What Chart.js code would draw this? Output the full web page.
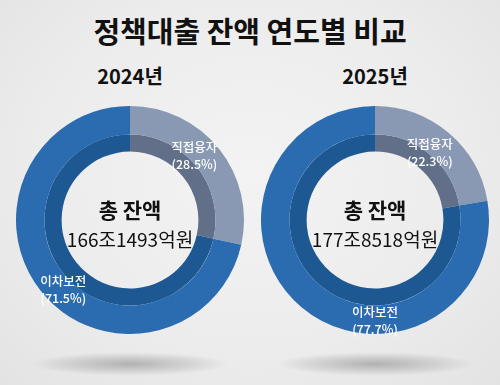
<!DOCTYPE html>
<html><head><meta charset="utf-8">
<script src="https://cdn.jsdelivr.net/npm/chart.js@4"></script>
<style>
html,body{margin:0;padding:0;}
body{width:500px;height:385px;overflow:hidden;position:relative;background:radial-gradient(ellipse at 50% 45%, #f3f3f3 0%, #ececec 60%, #e3e3e3 100%);font-family:"Noto Sans CJK KR","Noto Sans",sans-serif;}
#title{position:absolute;left:0;width:500px;top:10px;text-align:center;font-size:29px;font-weight:700;color:#111;line-height:40px;}
.year{position:absolute;top:62px;width:160px;text-align:center;font-size:20px;font-weight:700;color:#111;line-height:28px;}
.shadow{position:absolute;top:352px;width:200px;height:24px;border-radius:50%;background:radial-gradient(ellipse at center, rgba(0,0,0,0.24) 0%, rgba(0,0,0,0.09) 45%, rgba(0,0,0,0) 70%);}
.wrap{position:absolute;top:100px;width:240px;height:240px;}
</style>
</head><body>
<div id="title">정책대출 잔액 연도별 비교</div>
<div class="year" id="y0" style="left:50px"></div>
<div class="year" id="y1" style="left:295px"></div>
<div class="shadow" style="left:30px"></div>
<div class="shadow" style="left:275px"></div>
<div class="wrap" style="left:10px"><canvas id="c0" width="240" height="240"></canvas></div>
<div class="wrap" style="left:255px"><canvas id="c1" width="240" height="240"></canvas></div>
<script>
const categories = ['직접융자', '이차보전'];
const years = ['2024년', '2025년'];
const share2024 = [28.5, 71.5];
const share2025 = [22.3, 77.7];
const totals = ['166조1493억원', '177조8518억원'];
const centerTitle = '총 잔액';

const outerColors = ['#8a99b3', '#2b6cb0'];
const innerColors = ['#626f88', '#1d5893'];
const FONT = '"Noto Sans CJK KR","Noto Sans",sans-serif';

document.getElementById('y0').textContent = years[0];
document.getElementById('y1').textContent = years[1];

const ringText = {
  id: 'ringText',
  afterDatasetsDraw(chart, args, opts) {
    const ctx = chart.ctx;
    const arc = chart.getDatasetMeta(0).data[0];
    const cx = arc.x, cy = arc.y;
    ctx.save();
    ctx.textAlign = 'center';
    ctx.textBaseline = 'middle';
    ctx.fillStyle = '#111';
    ctx.font = 'bold 21px ' + FONT;
    ctx.fillText(centerTitle, cx, cy - 10);
    ctx.font = '19px ' + FONT;
    ctx.fillText(opts.total, cx, cy + 20);
    const vals = chart.data.datasets[0].data;
    ctx.fillStyle = '#ffffff';
    ctx.font = '500 12.5px ' + FONT;
    chart.data.labels.forEach((lab, i) => {
      const a = opts.angles[i] * Math.PI / 180;
      const r = opts.radii[i];
      const x = cx + r * Math.sin(a), y = cy - r * Math.cos(a);
      ctx.fillText(lab, x, y - 8);
      ctx.fillText('(' + vals[i].toFixed(1) + '%)', x, y + 9);
    });
    ctx.restore();
  }
};

function makeChart(id, shares, total, angles, radii) {
  return new Chart(document.getElementById(id), {
    type: 'doughnut',
    data: {
      labels: categories,
      datasets: [
        { data: shares, backgroundColor: outerColors, borderWidth: 0, weight: 30 },
        { data: shares, backgroundColor: innerColors, borderWidth: 0, weight: 18 }
      ]
    },
    options: {
      responsive: false,
      animation: false,
      cutout: '60%',
      layout: { padding: 6 },
      plugins: {
        legend: { display: false },
        tooltip: { enabled: false },
        ringText: { total: total, angles: angles, radii: radii }
      }
    },
    plugins: [ringText]
  });
}

makeChart('c0', share2024, totals[0], [45, 224], [91, 96]);
makeChart('c1', share2025, totals[1], [39, 180], [87, 100]);
</script>
</body></html>
